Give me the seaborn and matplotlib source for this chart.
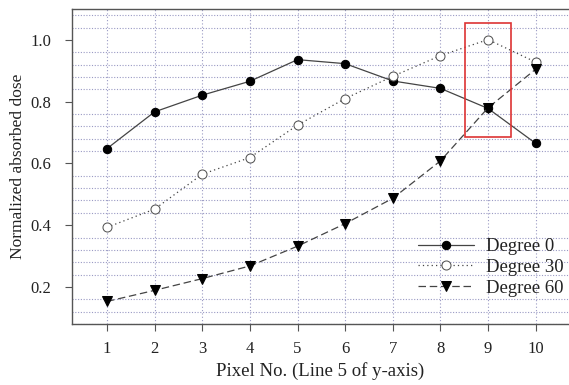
import numpy as np
import pandas as pd
import matplotlib
matplotlib.use("Agg")
import matplotlib.pyplot as plt
import matplotlib.ticker as mticker
from matplotlib.patches import Rectangle
import seaborn as sns

# values
pixel_no = [1, 2, 3, 4, 5, 6, 7, 8, 9, 10]
degree_0 = [0.648, 0.767, 0.821, 0.866, 0.936, 0.923, 0.867, 0.843, 0.778, 0.665]
degree_30 = [0.393, 0.452, 0.565, 0.619, 0.724, 0.810, 0.882, 0.949, 1.001, 0.928]
degree_60 = [0.153, 0.189, 0.227, 0.268, 0.332, 0.405, 0.487, 0.608, 0.780, 0.905]
series_names = ["Degree 0", "Degree 30", "Degree 60"]
y_ticks = [0.2, 0.4, 0.6, 0.8, 1.0]

sns.set_style("white")
plt.rcParams["font.family"] = ["Liberation Serif", "DejaVu Serif"]
plt.rcParams["text.color"] = "#222222"
plt.rcParams["axes.labelcolor"] = "#222222"
plt.rcParams["xtick.color"] = "#222222"
plt.rcParams["ytick.color"] = "#222222"

df = pd.DataFrame({"Pixel": pixel_no * 3,
                   "Dose": degree_0 + degree_30 + degree_60,
                   "Series": np.repeat(series_names, len(pixel_no))})

fig = plt.figure(figsize=(5.69, 3.85), dpi=100)
ax = fig.add_axes([72 / 569, 61 / 385, (569 - 72) / 569, 315 / 385])

styles = {
    "Degree 0": dict(linestyle="-", marker="o", markerfacecolor="black",
                     markeredgecolor="black", markersize=6),
    "Degree 30": dict(linestyle=(0, (1, 2.5)), marker="o", markerfacecolor="white",
                      markeredgecolor="#555555", markersize=6.5),
    "Degree 60": dict(linestyle=(0, (6, 3)), marker="v", markerfacecolor="black",
                      markeredgecolor="black", markersize=7),
}
for name in series_names:
    sub = df[df["Series"] == name]
    sns.lineplot(data=sub, x="Pixel", y="Dose", ax=ax, color="#444444",
                 linewidth=0.9, estimator=None, sort=False, label=name,
                 **styles[name])

# highlight box around pixel 9
ax.add_patch(Rectangle((8.51, 0.684), 0.97, 0.37, fill=False,
                       edgecolor="#dd3333", linewidth=1.2, zorder=5))

ax.set_xlim(0.265, 10.70)
ax.set_ylim(0.08, 1.10)
ax.set_xticks(pixel_no)
ax.set_yticks(y_ticks)
ax.yaxis.set_major_formatter(mticker.FormatStrFormatter("%.1f"))
ax.yaxis.set_minor_locator(mticker.MultipleLocator(0.04))

ax.grid(True, which="minor", axis="y", color="#9a9ac4", linestyle=(0, (1, 1.5)),
        linewidth=0.8)
ax.grid(True, which="major", axis="x", color="#9a9ac4", linestyle=(0, (1, 2)),
        linewidth=0.8)
ax.set_axisbelow(True)

for s in ["left", "top", "bottom"]:
    ax.spines[s].set_color("#555555")
    ax.spines[s].set_linewidth(1.0)
ax.spines["right"].set_visible(False)

ax.tick_params(axis="both", which="major", direction="out", length=5,
               width=0.8, color="#555555", labelsize=12, bottom=True, left=True)
ax.tick_params(axis="x", which="major", pad=7)
ax.tick_params(axis="y", which="major", pad=10)
ax.tick_params(axis="y", which="minor", left=False)

ax.set_xlabel("Pixel No. (Line 5 of y-axis)", fontsize=13.5, labelpad=4)
ax.set_ylabel("Normalized absorbed dose", fontsize=12.5, labelpad=3)

ax.legend(loc="upper left", bbox_to_anchor=(418 / 569, 1 - 238 / 385),
          bbox_transform=fig.transFigure, frameon=False, fontsize=13.5,
          handlelength=3.0, handletextpad=0.6, labelspacing=0.2,
          borderpad=0, borderaxespad=0)

fig.savefig("out.png", dpi=100)
